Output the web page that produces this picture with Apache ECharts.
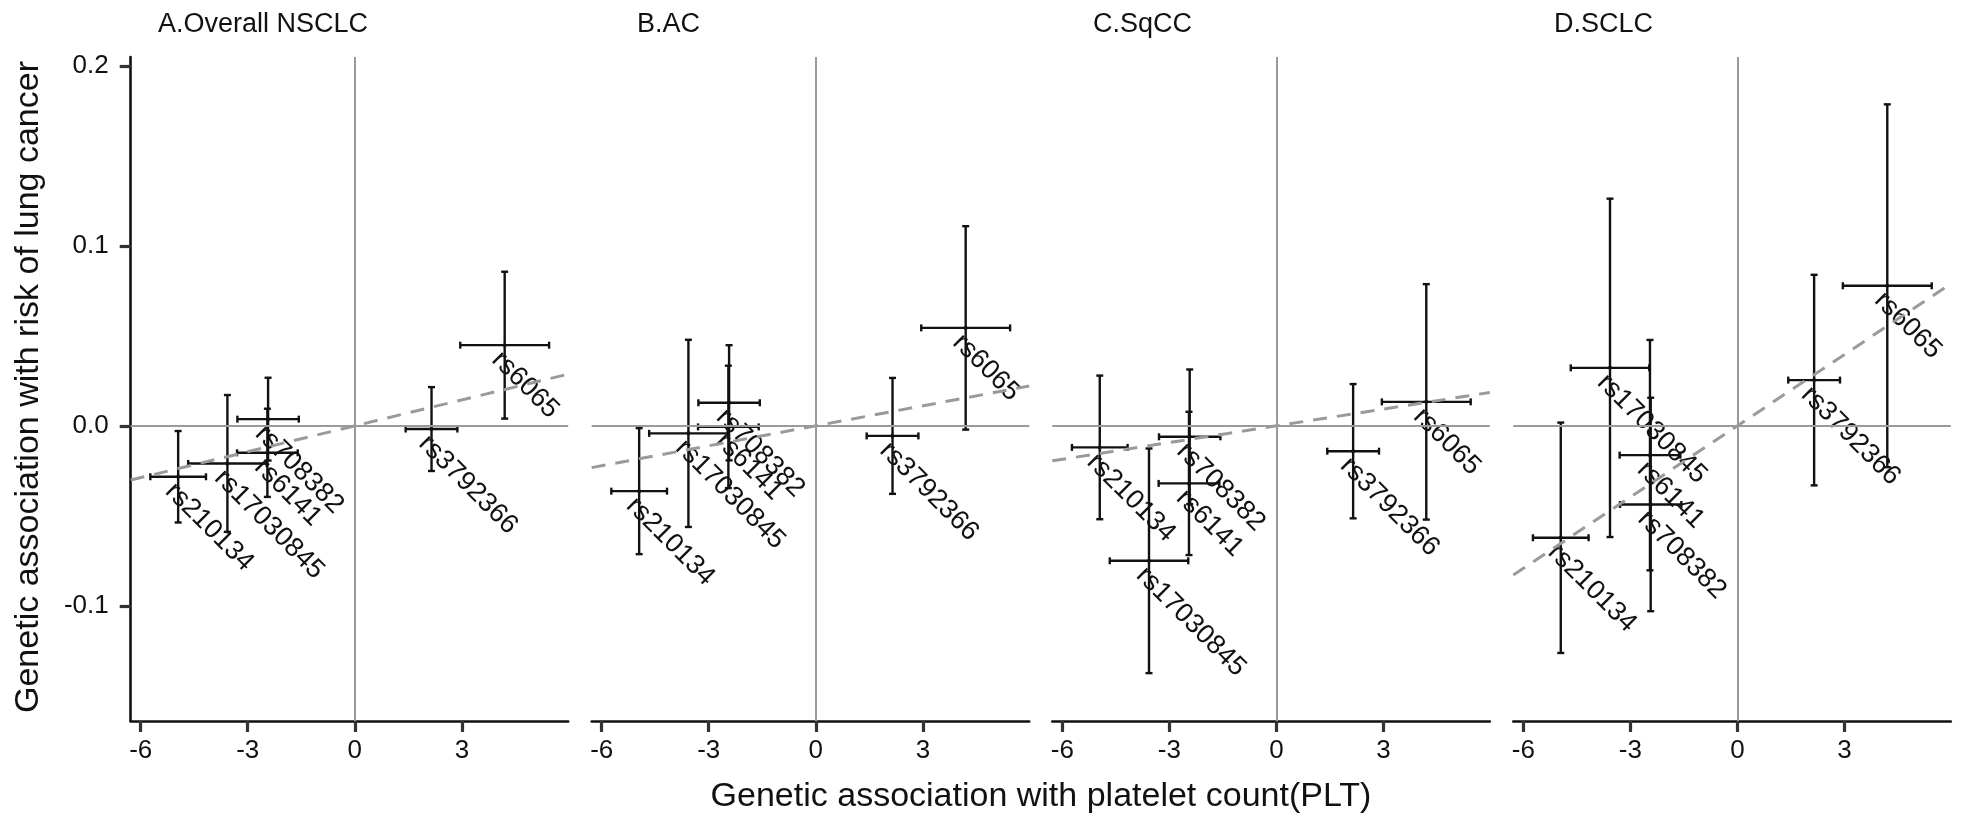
<!DOCTYPE html>
<html><head><meta charset="utf-8">
<script src="https://cdn.jsdelivr.net/npm/echarts@6/dist/echarts.min.js"></script>
<style>html,body{margin:0;padding:0;background:#fff}#c{width:1974px;height:822px}</style>
</head><body><div id="c"></div>
<script>
// ---------- data ----------
const panelTitles = ['A.Overall NSCLC', 'B.AC', 'C.SqCC', 'D.SCLC'];
const snps = ['rs210134', 'rs17030845', 'rs708382', 'rs6141', 'rs3792366', 'rs6065'];
// genetic association with platelet count (x) and half-width of its CI
const pltBeta = [-4.95, -3.57, -2.43, -2.45, 2.15, 4.20];
const pltHalf = [0.78, 1.10, 0.86, 0.85, 0.725, 1.245];
// genetic association with lung cancer risk (y) per panel, and half-width of CI
const lcBetaA = [-0.0283, -0.0209, 0.0037, -0.0150, -0.0018, 0.0448];
const lcHalfA = [0.0254, 0.0380, 0.0230, 0.0245, 0.0233, 0.0408];
const lcBetaB = [-0.0363, -0.0042, 0.0128, -0.0006, -0.0056, 0.0544];
const lcHalfB = [0.0350, 0.0520, 0.0320, 0.0340, 0.0322, 0.0565];
const lcBetaC = [-0.0120, -0.0750, -0.0061, -0.0320, -0.0141, 0.0133];
const lcHalfC = [0.0399, 0.0624, 0.0374, 0.0398, 0.0373, 0.0654];
const lcBetaD = [-0.0622, 0.0322, -0.0437, -0.0163, 0.0254, 0.0778];
const lcHalfD = [0.0640, 0.0940, 0.0593, 0.0640, 0.0585, 0.1008];
// slope of the dashed (IVW) line in each panel
const ivwSlopes = [0.0048, 0.0037, 0.0031, 0.0132];
const xTicks = [-6, -3, 0, 3];
const yTicks = [-0.1, 0, 0.1, 0.2];
const xRange = [-6.28, 5.98];
const yRange = [-0.164, 0.2049];

const lcBeta = [lcBetaA, lcBetaB, lcBetaC, lcBetaD];
const lcHalf = [lcHalfA, lcHalfB, lcHalfC, lcHalfD];

// ---------- layout ----------
const FONT = '"Liberation Sans", Arial, sans-serif';
const gridLefts = [130.7, 591.7, 1052.3, 1513.3];
const gridW = 437.5, gridTop = 57, gridH = 664;
const titleLefts = [158, 637, 1093, 1554];

function renderItem(params, api) {
  const x = api.value(0), y = api.value(1), xh = api.value(2), yh = api.value(3);
  const c = api.coord([x, y]);
  const l = api.coord([x - xh, y]), r = api.coord([x + xh, y]);
  const t = api.coord([x, y + yh]), b = api.coord([x, y - yh]);
  const cap = 3.5;
  const st = {stroke: '#111', lineWidth: 2.4};
  return {type: 'group', children: [
    {type: 'line', shape: {x1: l[0], y1: c[1], x2: r[0], y2: c[1]}, style: st},
    {type: 'line', shape: {x1: l[0], y1: c[1] - cap, x2: l[0], y2: c[1] + cap}, style: st},
    {type: 'line', shape: {x1: r[0], y1: c[1] - cap, x2: r[0], y2: c[1] + cap}, style: st},
    {type: 'line', shape: {x1: c[0], y1: t[1], x2: c[0], y2: b[1]}, style: st},
    {type: 'line', shape: {x1: c[0] - cap, y1: t[1], x2: c[0] + cap, y2: t[1]}, style: st},
    {type: 'line', shape: {x1: c[0] - cap, y1: b[1], x2: c[0] + cap, y2: b[1]}, style: st},
    {type: 'circle', shape: {cx: c[0], cy: c[1], r: 2}, style: {fill: '#111'}},
    {type: 'text', x: c[0] + 1, y: c[1] + 1, rotation: -Math.PI / 4,
      style: {text: snps[params.dataIndex], fill: '#111', fontSize: 27, fontFamily: FONT,
        align: 'left', verticalAlign: 'top'}}
  ]};
}

const grids = [], xAxes = [], yAxes = [], series = [], graphics = [];
for (let i = 0; i < 4; i++) {
  grids.push({left: gridLefts[i], top: gridTop, width: gridW, height: gridH});
  xAxes.push({
    type: 'value', gridIndex: i, min: xRange[0], max: xRange[1],
    axisLine: {show: true, onZero: false, lineStyle: {color: '#111', width: 2.6}},
    axisTick: {show: true, customValues: xTicks, length: 11, lineStyle: {color: '#333', width: 3.2}},
    axisLabel: {show: true, customValues: xTicks, fontSize: 26, color: '#111', fontFamily: FONT, margin: 17},
    splitLine: {show: false}
  });
  yAxes.push({
    type: 'value', gridIndex: i, min: yRange[0], max: yRange[1], show: i === 0,
    axisLine: {show: true, onZero: false, lineStyle: {color: '#111', width: 2.6}},
    axisTick: {show: true, customValues: yTicks, length: 11, lineStyle: {color: '#333', width: 3.2}},
    axisLabel: {show: true, customValues: yTicks, fontSize: 26, color: '#111', fontFamily: FONT, margin: 22,
      formatter: v => (Math.abs(v) < 1e-9 ? 0 : v).toFixed(1)},
    splitLine: {show: false}
  });
  // zero reference lines
  series.push({
    type: 'line', xAxisIndex: i, yAxisIndex: i, data: [], silent: true, z: 1,
    markLine: {silent: true, symbol: 'none', animation: false, label: {show: false},
      lineStyle: {color: '#9a9a9a', width: 2, type: 'solid'},
      data: [{xAxis: 0}, {yAxis: 0}]}
  });
  // error-bar crosses with labels
  series.push({
    type: 'custom', xAxisIndex: i, yAxisIndex: i, renderItem: renderItem, clip: false, z: 2,
    data: snps.map((s, k) => [pltBeta[k], lcBeta[i][k], pltHalf[k], lcHalf[i][k]]),
    encode: {x: 0, y: 1}
  });
  // dashed IVW line
  series.push({
    type: 'line', xAxisIndex: i, yAxisIndex: i, symbol: 'none', z: 3, silent: true,
    data: [[xRange[0], ivwSlopes[i] * xRange[0]], [xRange[1], ivwSlopes[i] * xRange[1]]],
    lineStyle: {color: '#9a9a9a', width: 3, type: [14, 10]}
  });
  graphics.push({type: 'text', left: titleLefts[i], top: 11,
    style: {text: panelTitles[i], fontSize: 27, fontFamily: FONT, fill: '#111'}});
}
graphics.push({type: 'text', x: 1041, y: 797,
  style: {text: 'Genetic association with platelet count(PLT)', fontSize: 34, fontFamily: FONT, fill: '#111',
    align: 'center', verticalAlign: 'middle'}});
graphics.push({type: 'text', x: 29, y: 387, rotation: Math.PI / 2,
  style: {text: 'Genetic association with risk of lung cancer', fontSize: 34, fontFamily: FONT, fill: '#111',
    align: 'center', verticalAlign: 'middle'}});

const chart = echarts.init(document.getElementById('c'));
chart.setOption({
  animation: false, backgroundColor: '#fff',
  grid: grids, xAxis: xAxes, yAxis: yAxes, series: series, graphic: graphics
});
</script></body></html>
